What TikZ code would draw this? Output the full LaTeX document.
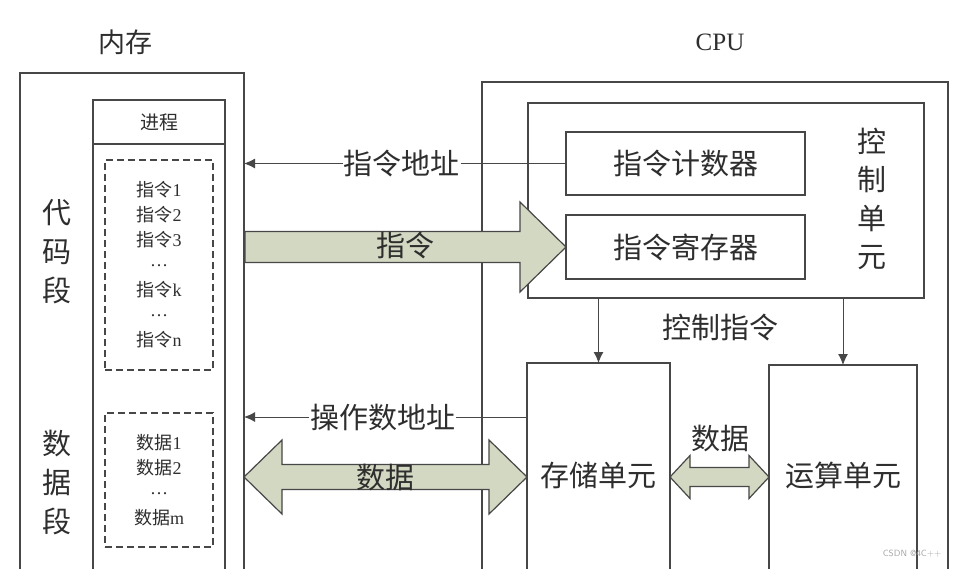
\documentclass[tikz,border=0pt]{standalone}
\usepackage{fontspec}
\setmainfont{Liberation Serif}
\newfontfamily\cjk{Noto Sans CJK SC}
\usetikzlibrary{arrows.meta,calc}
\definecolor{ln}{HTML}{474747}
\definecolor{tx}{HTML}{2E2E2E}
\definecolor{af}{HTML}{D3D8C3}
\newcommand{\mydots}{\raisebox{0.28em}{…}}
\begin{document}
\begin{tikzpicture}[x=1pt,y=-1pt,
  box/.style={draw=ln, line width=1.3pt, anchor=north west, inner sep=0pt, outer sep=0pt},
  dbox/.style={box, dash pattern=on 7pt off 4pt},
  big/.style={text=tx, font=\cjk\fontsize{29}{34}\selectfont, inner sep=1pt},
  vert/.style={text=tx, font=\cjk\fontsize{29}{39}\selectfont, align=center, inner sep=0pt},
  small/.style={text=tx, font=\fontsize{18}{25}\selectfont, align=center},
  arr/.style={draw=ln, line width=1pt, -{Latex[length=11pt,width=10pt]}},
  blk/.style={draw=ln, line width=1.2pt, fill=af, line join=miter}]
\clip (0,0) rectangle (960,568);
\fill[white] (0,0) rectangle (960,568);

% titles
\node[text=tx, font=\cjk\fontsize{27}{30}\selectfont] (tmem) at (125,42) {内存};
\node[text=tx, font=\fontsize{25}{28}\selectfont] (tcpu) at (720,42) {CPU};

% memory side
\node[box, minimum width=224pt, minimum height=507pt] (mem) at (20,73) {};
\node[box, minimum width=132pt, minimum height=44pt, font=\cjk\fontsize{19}{22}\selectfont, text=tx] (phead) at (93,100) {进程};
\node[box, minimum width=132pt, minimum height=436pt] (proc) at (93,144) {};
\node[dbox, minimum width=108pt, minimum height=210pt, small] (code) at (105,160)
  {{\cjk 指令}1\\{\cjk 指令}2\\{\cjk 指令}3\\\mydots\\{\cjk 指令}k\\\mydots\\{\cjk 指令}n};
\node[dbox, minimum width=108pt, minimum height=134pt, small] (data) at (105,413)
  {{\cjk 数据}1\\{\cjk 数据}2\\\mydots\\{\cjk 数据}m};
\node[vert] (dms) at (57,252) {代\\码\\段};
\node[vert] (sjd) at (57,483) {数\\据\\段};

% CPU side
\node[box, minimum width=466pt, minimum height=498pt] (cpu) at (482,82) {};
\node[box, minimum width=396pt, minimum height=195pt] (ctrl) at (528,103) {};
\node[box, minimum width=239pt, minimum height=63pt, big] (pc) at (566,132) {指令计数器};
\node[box, minimum width=239pt, minimum height=64pt, big] (ir) at (566,215) {指令寄存器};
\node[vert, font=\cjk\fontsize{29}{38.5}\selectfont] (kzdy) at (872,199) {控\\制\\单\\元};
\node[box, minimum width=143pt, minimum height=217pt, big] (store) at (527,363) {};
\node[box, minimum width=148pt, minimum height=215pt, big] (alu) at (769,365) {};
\node[big] (storet) at (598,475) {存储单元};
\node[big] (alut) at (843,475) {运算单元};

% address arrows
\draw[arr] (pc.west) -- (mem.east |- pc.west)
  node[big, fill=white, pos=0.51] (lia) {指令地址};
\coordinate (oa) at ($(store.north west)+(0,54)$);
\draw[arr] (oa) -- (mem.east |- oa)
  node[big, fill=white, pos=0.51] (loa) {操作数地址};

% instruction block arrow
\draw[blk] ($(mem.east |- ir.west)+(1,-15.5)$) -- ($(ir.west)+(-46,-15.5)$)
  -- ($(ir.west)+(-46,-45)$) -- (ir.west) -- ($(ir.west)+(-46,45)$)
  -- ($(ir.west)+(-46,15.5)$) -- ($(mem.east |- ir.west)+(1,15.5)$) -- cycle;
\node[big] (lins) at (405,245) {指令};

% data double arrow memory <-> storage
\coordinate (dL) at ($(mem.north east)+(0,404)$);
\coordinate (dR) at ($(store.north west)+(0,114)$);
\draw[blk] (dL) -- ($(dL)+(38,-37)$) -- ($(dL)+(38,-12.5)$) -- ($(dR)+(-38,-12.5)$)
  -- ($(dR)+(-38,-37)$) -- (dR) -- ($(dR)+(-38,37)$) -- ($(dR)+(-38,12.5)$)
  -- ($(dL)+(38,12.5)$) -- ($(dL)+(38,37)$) -- cycle;
\node[big] (ldata) at ($(dL)!0.5!(dR)$) {数据};

% data double arrow storage <-> alu
\coordinate (sL) at (store.east |- dR);
\coordinate (sR) at (alu.west |- dR);
\draw[blk] (sL) -- ($(sL)+(20,-21.5)$) -- ($(sL)+(20,-9.5)$) -- ($(sR)+(-20,-9.5)$)
  -- ($(sR)+(-20,-21.5)$) -- (sR) -- ($(sR)+(-20,21.5)$) -- ($(sR)+(-20,9.5)$)
  -- ($(sL)+(20,9.5)$) -- ($(sL)+(20,21.5)$) -- cycle;
\node[big] (ldata2) at (720,438) {数据};

% control arrows
\draw[arr] (store.north |- ctrl.south) -- (store.north);
\draw[arr] (alu.north |- ctrl.south) -- (alu.north);
\node[big] (lctl) at (720,327) {控制指令};

\node[font=\sffamily\fontsize{9}{10}\selectfont, text=gray!70] (wm) at (912,554) {CSDN @4C++};
\end{tikzpicture}
\end{document}
